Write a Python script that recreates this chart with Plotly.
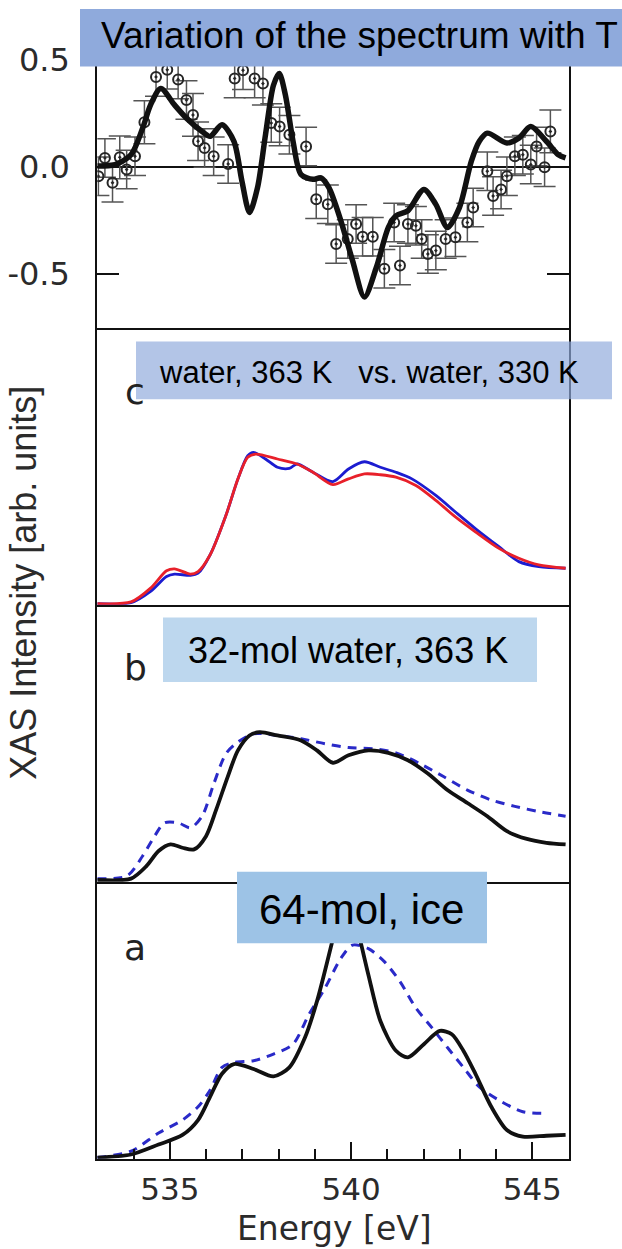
import plotly.graph_objects as go

W, H = 622, 1249

# ---------------- difference spectrum (top panel) ----------------
e_fit = [533.0, 533.49, 533.93, 534.25, 534.47, 534.75, 535.13, 535.46, 535.89, 536.11,
         536.44, 536.77, 536.99, 537.20, 537.42, 537.64, 537.86, 538.02, 538.19, 538.40,
         538.62, 538.95, 539.17, 539.39, 539.72, 540.04, 540.37, 540.70, 541.03, 541.24,
         541.57, 542.01, 542.34, 542.66, 542.99, 543.32, 543.54, 543.76, 544.30, 544.63,
         544.96, 545.39, 545.72, 545.92]
diff_fit = [0.005, 0.012, 0.058, 0.182, 0.291, 0.368, 0.291, 0.229, 0.167, 0.144,
            0.198, 0.121, -0.065, -0.212, -0.096, 0.151, 0.383, 0.438, 0.337, 0.121,
            -0.034, -0.057, -0.05, -0.096, -0.251, -0.436, -0.607, -0.468, -0.282, -0.228,
            -0.204, -0.104, -0.174, -0.282, -0.189, 0.028, 0.121, 0.159, 0.113, 0.136,
            0.19, 0.121, 0.058, 0.043]

e_pts = [533.03, 533.21, 533.42, 533.62, 533.81, 534.04, 534.30, 534.62, 534.93, 535.23,
         535.46, 535.64, 535.78, 535.96, 536.21, 536.61, 536.79, 537.02, 537.34, 537.57,
         537.80, 538.03, 538.30, 538.76, 539.04, 539.36, 539.59, 539.91, 540.14, 540.32,
         540.60, 540.92, 541.19, 541.35, 541.57, 541.79, 541.95, 542.12, 542.34, 542.61,
         542.88, 543.21, 543.37, 543.76, 543.92, 544.14, 544.30, 544.52, 544.74, 544.96,
         545.12, 545.34, 545.50]
diff_pts = [-0.042, 0.043, -0.073, 0.046, -0.011, 0.051, 0.21, 0.422, 0.455, 0.41,
            0.314, 0.244, 0.121, 0.09, 0.051, 0.015, 0.415, 0.453, 0.415, 0.391,
            0.206, 0.19, 0.151, 0.097, -0.150, -0.174, -0.359, -0.336, -0.266, -0.325,
            -0.325, -0.475, -0.259, -0.46, -0.266, -0.274, -0.336, -0.406, -0.39, -0.336,
            -0.328, -0.259, -0.189, -0.019, -0.135, -0.104, -0.042, 0.051, 0.058, 0.012,
            0.097, 0.0, 0.167]
diff_err = [0.09, 0.09, 0.09, 0.10, 0.09, 0.09, 0.10, 0.09, 0.09, 0.09,
            0.09, 0.10, 0.09, 0.09, 0.09, 0.09, 0.09, 0.09, 0.09, 0.10,
            0.09, 0.09, 0.09, 0.09, 0.09, 0.09, 0.09, 0.09, 0.09, 0.09,
            0.09, 0.09, 0.09, 0.09, 0.09, 0.09, 0.09, 0.09, 0.09, 0.09,
            0.09, 0.09, 0.09, 0.09, 0.09, 0.09, 0.09, 0.09, 0.09, 0.09,
            0.09, 0.09, 0.10]

# ---------------- panel c: experiment at two temperatures ----------------
e_c_red = [533.0, 533.93, 534.47, 534.91, 535.13, 535.57, 535.78, 536.11, 536.55, 536.88,
           537.15, 537.37, 537.97, 538.51, 538.95, 539.50, 539.93, 540.37, 540.81, 541.24,
           541.79, 542.34, 542.88, 543.43, 544.08, 544.63, 545.18, 545.92]
c_red = [0.0, 0.006, 0.056, 0.119, 0.126, 0.107, 0.116, 0.176, 0.32, 0.452,
         0.53, 0.542, 0.524, 0.506, 0.476, 0.431, 0.452, 0.47, 0.467, 0.458,
         0.428, 0.374, 0.314, 0.26, 0.2, 0.164, 0.14, 0.128]
e_c_blue = [533.0, 533.93, 534.47, 534.91, 535.13, 535.57, 535.78, 536.11, 536.55, 536.88,
            537.15, 537.31, 537.64, 537.97, 538.30, 538.51, 538.95, 539.50, 539.93, 540.37,
            540.81, 541.24, 541.68, 542.34, 542.88, 543.43, 544.08, 544.63, 545.18, 545.92]
c_blue = [0.0, 0.003, 0.044, 0.098, 0.107, 0.102, 0.11, 0.176, 0.32, 0.452,
          0.536, 0.548, 0.524, 0.494, 0.49, 0.506, 0.476, 0.442, 0.488, 0.514,
          0.494, 0.476, 0.452, 0.392, 0.332, 0.272, 0.206, 0.152, 0.134, 0.128]

# ---------------- panel b: 32-molecule water ----------------
e_b_solid = [533.0, 533.93, 534.36, 534.69, 535.02, 535.35, 535.67, 536.0, 536.28, 536.60,
             536.88, 537.20, 537.48, 537.97, 538.62, 539.06, 539.50, 539.93, 540.48, 541.03,
             541.57, 542.12, 542.66, 543.21, 543.76, 544.30, 544.85, 545.39, 545.92]
b_solid = [0.002, 0.007, 0.053, 0.107, 0.131, 0.119, 0.113, 0.161, 0.257, 0.377,
           0.472, 0.526, 0.538, 0.526, 0.508, 0.472, 0.427, 0.454, 0.472, 0.463,
           0.436, 0.388, 0.328, 0.281, 0.233, 0.179, 0.151, 0.137, 0.131]
e_b_dash = [533.0, 533.82, 534.25, 534.58, 534.85, 535.24, 535.57, 535.89, 536.22, 536.55,
            536.88, 537.31, 537.97, 538.62, 539.28, 539.93, 540.59, 541.24, 541.90, 542.55,
            543.21, 543.87, 544.52, 545.18, 545.92]
b_dash = [0.007, 0.017, 0.089, 0.161, 0.209, 0.209, 0.191, 0.233, 0.353, 0.46,
          0.502, 0.532, 0.526, 0.514, 0.496, 0.482, 0.478, 0.463, 0.424, 0.377,
          0.328, 0.292, 0.269, 0.25, 0.233]

# ---------------- panel a: 64-molecule ice ----------------
e_a_solid = [533.0, 533.93, 534.69, 535.35, 535.78, 536.11, 536.44, 536.77, 537.31, 537.86,
             538.30, 538.73, 539.06, 539.39, 539.61, 539.82, 540.15, 540.48, 540.81, 541.24,
             541.57, 542.01, 542.45, 542.78, 543.10, 543.43, 543.87, 544.30, 544.74, 545.39,
             545.92]
a_solid = [0.0, 0.011, 0.047, 0.082, 0.136, 0.22, 0.304, 0.339, 0.321, 0.294,
           0.327, 0.435, 0.566, 0.734, 0.853, 0.975, 0.841, 0.662, 0.495, 0.387,
           0.363, 0.411, 0.459, 0.447, 0.387, 0.304, 0.184, 0.1, 0.076, 0.079,
           0.082]
e_a_dash = [533.0, 533.93, 534.69, 535.35, 535.78, 536.11, 536.44, 536.77, 537.31, 537.86,
            538.40, 538.84, 539.28, 539.72, 540.04, 540.48, 540.92, 541.35, 541.79, 542.23,
            542.66, 543.10, 543.54, 544.08, 544.74, 545.39]
a_dash = [0.0, 0.023, 0.089, 0.136, 0.184, 0.244, 0.327, 0.345, 0.351, 0.375,
          0.411, 0.519, 0.614, 0.722, 0.77, 0.757, 0.71, 0.638, 0.542, 0.471,
          0.399, 0.327, 0.256, 0.208, 0.166, 0.16]

x_ticks = [535, 540, 545]
diff_ticks = [-0.5, 0.0, 0.5]
diff_ticktext = ["-0.5", "0.0", "0.5"]

BLACK = "#111111"
BLUE = "#1c1cd0"
RED = "#e8202a"
DASH_BLUE = "#2a2ac8"
AX_FONT = "DejaVu Sans"
BOX_FONT = "Liberation Sans, Arial, sans-serif"
LABEL_GREY = "#2b2b2b"


def fx(px):
    return px / W


def fy(py):
    return 1 - py / H


fig = go.Figure()

# top panel: measured difference with error bars and computed difference
fig.add_trace(go.Scatter(
    x=e_pts, y=diff_pts, xaxis="x4", yaxis="y4", mode="markers",
    marker=dict(symbol="circle-open-dot", size=10, color="#262626", line=dict(width=2)),
    error_y=dict(type="data", array=diff_err, visible=True, color="#555555",
                 thickness=1.5, width=11),
    showlegend=False))
fig.add_trace(go.Scatter(
    x=e_fit, y=diff_fit, xaxis="x4", yaxis="y4", mode="lines",
    line=dict(color=BLACK, width=5.5, shape="spline", smoothing=0.8), showlegend=False))

# panel c
fig.add_trace(go.Scatter(
    x=e_c_blue, y=c_blue, xaxis="x3", yaxis="y3", mode="lines",
    line=dict(color=BLUE, width=2.8, shape="spline", smoothing=0.8), showlegend=False))
fig.add_trace(go.Scatter(
    x=e_c_red, y=c_red, xaxis="x3", yaxis="y3", mode="lines",
    line=dict(color=RED, width=2.8, shape="spline", smoothing=0.8), showlegend=False))

# panel b
fig.add_trace(go.Scatter(
    x=e_b_dash, y=b_dash, xaxis="x2", yaxis="y2", mode="lines",
    line=dict(color=DASH_BLUE, width=3, dash="9px,7px", shape="spline", smoothing=0.8),
    showlegend=False))
fig.add_trace(go.Scatter(
    x=e_b_solid, y=b_solid, xaxis="x2", yaxis="y2", mode="lines",
    line=dict(color=BLACK, width=3.8, shape="spline", smoothing=0.8), showlegend=False))

# panel a
fig.add_trace(go.Scatter(
    x=e_a_dash, y=a_dash, xaxis="x", yaxis="y", mode="lines",
    line=dict(color=DASH_BLUE, width=3, dash="9px,7px", shape="spline", smoothing=0.8),
    showlegend=False))
fig.add_trace(go.Scatter(
    x=e_a_solid, y=a_solid, xaxis="x", yaxis="y", mode="lines",
    line=dict(color=BLACK, width=3.8, shape="spline", smoothing=0.8), showlegend=False))

x_dom = [fx(97.3), fx(568.5)]
# each x axis draws only its bottom edge so that panel separators are single lines
xline = dict(range=[533, 546], domain=x_dom, showline=True, linecolor=BLACK,
             linewidth=2, mirror=False, showgrid=False, zeroline=False)
yframe = dict(showline=True, linecolor=BLACK, linewidth=2, mirror=True,
              showgrid=False, zeroline=False)

panel_y = {
    "a": (879, 1158),
    "b": (600, 879),
    "c": (321, 600),
    "top": (42, 321),
}


def ydom(key):
    top, bot = panel_y[key]
    return [fy(bot), fy(top)]


fig.update_layout(
    width=W, height=H,
    margin=dict(l=0, r=0, t=0, b=0),
    paper_bgcolor="white", plot_bgcolor="white",
    xaxis=dict(xline, anchor="y", tickmode="array", tickvals=x_ticks,
               ticks="inside", ticklen=17, tickwidth=1.5, tickcolor=BLACK,
               ticklabelstandoff=2,
               tickfont=dict(family=AX_FONT, size=31, color=LABEL_GREY),
               minor=dict(ticks="inside", ticklen=10, dtick=1, tick0=533,
                          tickwidth=1.5, tickcolor=BLACK)),
    xaxis2=dict(xline, anchor="y2", matches="x", showticklabels=False, ticks=""),
    xaxis3=dict(xline, anchor="y3", matches="x", showticklabels=False, ticks=""),
    xaxis4=dict(xline, anchor="y4", matches="x", showticklabels=False, ticks="",
                mirror=True),
    yaxis=dict(yframe, anchor="x", domain=ydom("a"), range=[-0.004, 1.0],
               showticklabels=False, ticks=""),
    yaxis2=dict(yframe, anchor="x2", domain=ydom("b"), range=[-0.004, 1.0],
                showticklabels=False, ticks=""),
    yaxis3=dict(yframe, anchor="x3", domain=ydom("c"), range=[-0.004, 1.0],
                showticklabels=False, ticks=""),
    yaxis4=dict(showline=True, linecolor=BLACK, linewidth=2, mirror="ticks",
                showgrid=False, anchor="x4", domain=ydom("top"),
                range=[-0.7507, 0.5446], tickmode="array", tickvals=diff_ticks,
                ticktext=diff_ticktext, ticks="inside", ticklen=22, tickwidth=1.5,
                tickcolor=BLACK, ticklabelstandoff=19,
                tickfont=dict(family=AX_FONT, size=32, color=LABEL_GREY),
                zeroline=True, zerolinecolor=BLACK, zerolinewidth=1.6),
)

# labelled overlay boxes
boxes = [
    dict(x0=80, x1=622, y0=0, y1=58, color="#8FAADC", opacity=1.0),
    dict(x0=136, x1=612, y0=335, y1=393, color="#8FAADC", opacity=0.68),
    dict(x0=163, x1=537, y0=613, y1=678, color="#BDD7EE", opacity=1.0),
    dict(x0=237, x1=487, y0=869, y1=941, color="#9DC3E6", opacity=1.0),
]
for b in boxes:
    fig.add_shape(type="rect", xref="paper", yref="paper",
                  x0=fx(b["x0"]), x1=fx(b["x1"]), y0=fy(b["y1"]), y1=fy(b["y0"]),
                  fillcolor=b["color"], opacity=b["opacity"], line=dict(width=0),
                  layer="above")

notes = [
    dict(text="Variation of the spectrum with T", x=99, y=27, size=37, xanchor="left",
         family=BOX_FONT, color="black"),
    dict(text="water, 363 K   vs. water, 330 K", x=157, y=366, size=31, xanchor="left",
         family=BOX_FONT, color="black"),
    dict(text="32-mol water, 363 K", x=348, y=646, size=36, xanchor="center",
         family=BOX_FONT, color="black"),
    dict(text="64-mol, ice", x=361, y=907, size=42, xanchor="center",
         family=BOX_FONT, color="black"),
    dict(text="c", x=135, y=385, size=36, xanchor="center", family=AX_FONT, color="#222222"),
    dict(text="b", x=135, y=663, size=36, xanchor="center", family=AX_FONT, color="#222222"),
    dict(text="a", x=135, y=945, size=36, xanchor="center", family=AX_FONT, color="#222222"),
    dict(text="Energy [eV]", x=334, y=1228, size=33, xanchor="center", family=AX_FONT,
         color=LABEL_GREY),
]
for n in notes:
    fig.add_annotation(text=n["text"], xref="paper", yref="paper",
                       x=fx(n["x"]), y=fy(n["y"]), xanchor=n["xanchor"], yanchor="middle",
                       showarrow=False,
                       font=dict(family=n["family"], size=n["size"], color=n["color"]))

fig.add_annotation(text="XAS Intensity [arb. units]", xref="paper", yref="paper",
                   x=fx(24), y=fy(578), xanchor="center", yanchor="middle",
                   textangle=-90, showarrow=False,
                   font=dict(family=BOX_FONT, size=36, color=LABEL_GREY))

fig.write_html("out.html")
